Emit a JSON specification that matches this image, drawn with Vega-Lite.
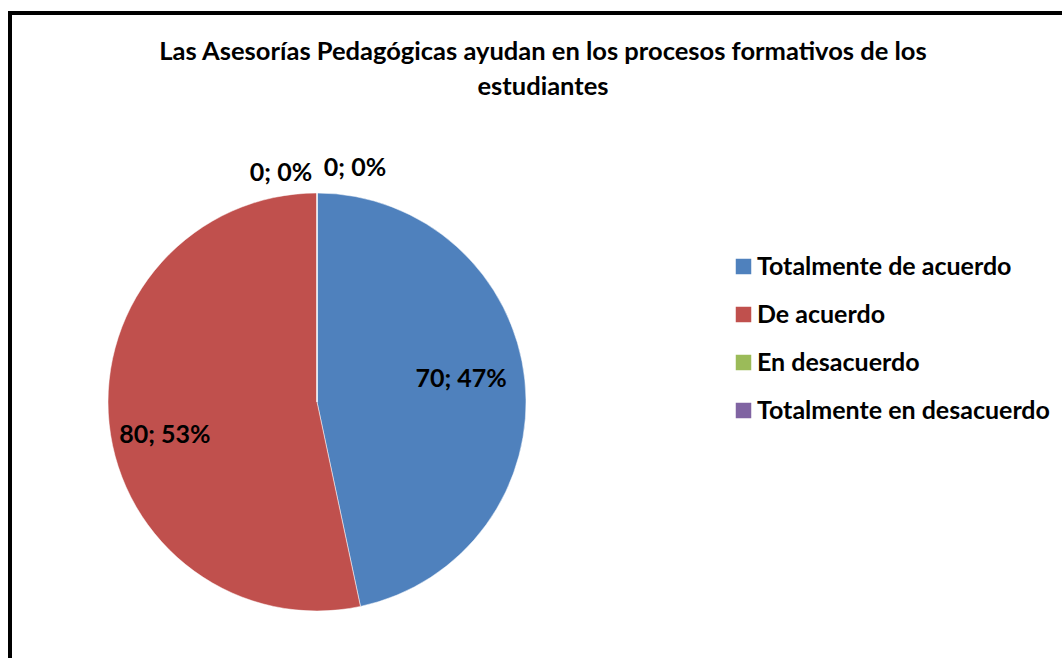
{
  "$schema": "https://vega.github.io/schema/vega-lite/v6.json",
  "width": 1052,
  "height": 645,
  "autosize": {"type": "none"},
  "padding": {"left": 10, "top": 13, "right": 0, "bottom": 0},
  "background": "white",
  "view": {"stroke": "black", "strokeWidth": 4, "strokeDash": [1052, 1697, 645], "strokeCap": "square"},
  "config": {
    "font": "Lato",
    "view": {"stroke": "black", "strokeWidth": 4, "strokeDash": [1052, 1697, 645], "strokeCap": "square"}
  },
  "title": {
    "text": ["Las Asesorías Pedagógicas ayudan en los procesos formativos de los", "estudiantes"],
    "font": "Lato",
    "fontSize": 25.5,
    "fontWeight": "bold",
    "color": "black",
    "anchor": "middle",
    "baseline": "top",
    "lineHeight": 35,
    "offset": -26,
    "dy": 61,
    "dx": 7
  },
  "data": {
    "values": [
      {"categoria": "Totalmente de acuerdo", "valor": 70, "etiqueta": "70; 47%", "orden": 1},
      {"categoria": "De acuerdo", "valor": 80, "etiqueta": "80; 53%", "orden": 2},
      {"categoria": "En desacuerdo", "valor": 0, "etiqueta": "0; 0%", "orden": 3},
      {"categoria": "Totalmente en desacuerdo", "valor": 0, "etiqueta": "0; 0%", "orden": 4}
    ]
  },
  "encoding": {
    "theta": {"field": "valor", "type": "quantitative", "stack": true},
    "order": {"field": "orden", "type": "ordinal"},
    "color": {
      "field": "categoria",
      "type": "nominal",
      "sort": ["Totalmente de acuerdo", "De acuerdo", "En desacuerdo", "Totalmente en desacuerdo"],
      "scale": {
        "domain": ["Totalmente de acuerdo", "De acuerdo", "En desacuerdo", "Totalmente en desacuerdo"],
        "range": ["#4F81BD", "#C0504D", "#9BBB59", "#8064A2"]
      },
      "legend": {
        "title": null,
        "orient": "none",
        "legendX": 721,
        "legendY": 241,
        "symbolType": "square",
        "symbolSize": 240,
        "symbolStrokeWidth": 0,
        "symbolOpacity": 1,
        "labelFont": "Lato",
        "labelFontSize": 25,
        "labelFontWeight": "bold",
        "labelColor": "black",
        "labelLimit": 400,
        "labelOffset": 1,
        "rowPadding": 22
      }
    }
  },
  "layer": [
    {
      "mark": {"type": "arc", "radius": 209, "x": 307, "y": 389, "stroke": "white", "strokeWidth": 0.5}
    },
    {
      "mark": {"type": "text", "radius": 148, "x": 307, "y": 389, "dx": -3, "dy": -8, "font": "Lato", "fontSize": 25, "fontWeight": "bold"},
      "encoding": {"text": {"condition": {"test": "datum.orden == 1", "field": "etiqueta"}, "value": ""}, "color": {"value": "black"}}
    },
    {
      "mark": {"type": "text", "radius": 150, "x": 307, "y": 389, "dx": -3, "dy": 17, "font": "Lato", "fontSize": 25, "fontWeight": "bold"},
      "encoding": {"text": {"condition": {"test": "datum.orden == 2", "field": "etiqueta"}, "value": ""}, "color": {"value": "black"}}
    },
    {
      "mark": {"type": "text", "radius": 229, "x": 307, "y": 389, "dx": -36, "font": "Lato", "fontSize": 25, "fontWeight": "bold"},
      "encoding": {"text": {"condition": {"test": "datum.orden == 3", "field": "etiqueta"}, "value": ""}, "color": {"value": "black"}}
    },
    {
      "mark": {"type": "text", "radius": 234, "x": 307, "y": 389, "dx": 38, "font": "Lato", "fontSize": 25, "fontWeight": "bold"},
      "encoding": {"text": {"condition": {"test": "datum.orden == 4", "field": "etiqueta"}, "value": ""}, "color": {"value": "black"}}
    }
  ]
}
